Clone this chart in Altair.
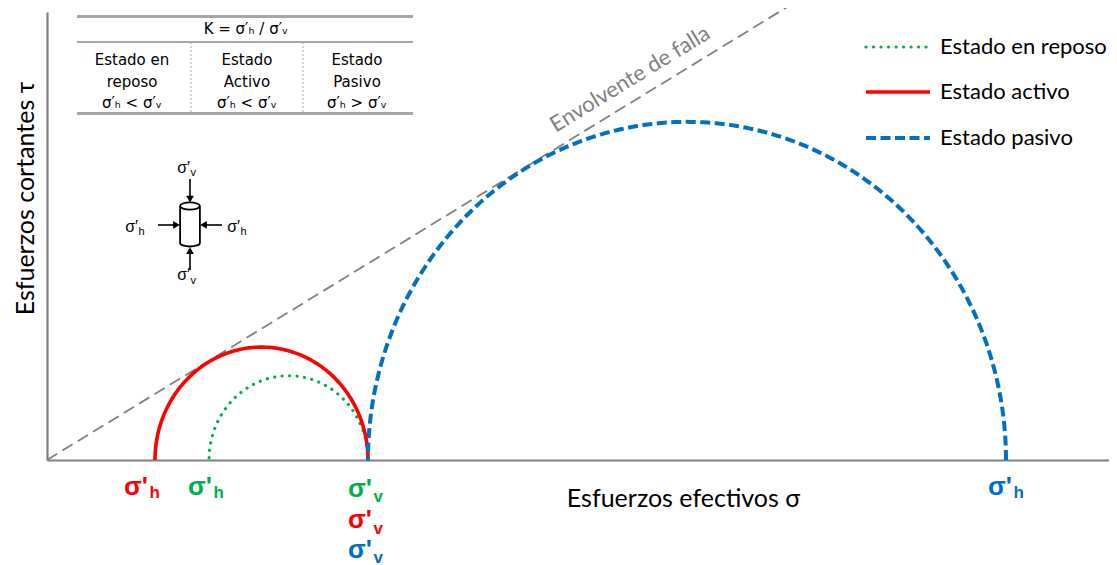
import math
import numpy as np
import pandas as pd
import altair as alt

# ---------------- data ----------------
states = ["Estado en reposo", "Estado activo", "Estado pasivo"]
sigma_h = [16.2, 10.8, 95.9]      # horizontal effective stress
sigma_v = [32.1, 32.1, 32.1]      # vertical effective stress
colors = ["#00B050", "#FF0000", "#0070C0"]
dashes = [[0.1, 7.4], None, [10, 4.5]]
widths = [3.2, 3.6, 4.0]
caps = ["round", "butt", "butt"]

phi_deg = 30.0                    # friction angle of failure envelope
env_sigma = [0.0, 74.0]

X_DOMAIN = [0, 106.2]
Y_DOMAIN = [0, 42.264]

XS = alt.Scale(domain=X_DOMAIN, nice=False, zero=False)
YS = alt.Scale(domain=Y_DOMAIN, nice=False, zero=False)

GRAY = "#808080"

AX = alt.Axis(
    title="Esfuerzos efectivos σ", labels=False, ticks=False, grid=False,
    domainColor=GRAY, domainWidth=2.2, titleFont="Lato", titleFontSize=25,
    titleFontWeight="normal", titleColor="black", titleX=636, titleY=46,
    titleBaseline="alphabetic", titleAlign="center")
AY = alt.Axis(
    title="Esfuerzos cortantes τ", labels=False, ticks=False, grid=False,
    domainColor=GRAY, domainWidth=2.2, titleFont="Lato", titleFontSize=25,
    titleFontWeight="normal", titleColor="black", titleX=-14, titleY=186,
    titleBaseline="alphabetic", titleAlign="center", titleAngle=270)


def xy(x="x", y="y"):
    return dict(x=alt.X(f"{x}:Q", scale=XS, axis=AX), y=alt.Y(f"{y}:Q", scale=YS, axis=AY))


layers = []

# ---------- failure envelope ----------
tanphi = math.tan(math.radians(phi_deg))
env = pd.DataFrame({"x": env_sigma, "y": [s * tanphi for s in env_sigma]})
layers.append(alt.Chart(env).mark_line(color=GRAY, strokeWidth=1.8, strokeDash=[12, 6], clip=False)
              .encode(**xy()))
layers.append(alt.Chart(pd.DataFrame({"x": [58.3], "y": [35.94], "t": ["Envolvente de falla"]}))
              .mark_text(font="Lato", fontSize=22, color=GRAY, angle=328.5, align="center", baseline="middle")
              .encode(text="t:N", **xy()))

# ---------- Mohr semicircles ----------
theta = np.linspace(0, math.pi, 241)
for i, st in enumerate(states):
    c = (sigma_h[i] + sigma_v[i]) / 2
    r = abs(sigma_v[i] - sigma_h[i]) / 2
    df = pd.DataFrame({"x": c + r * np.cos(theta), "y": r * np.sin(theta), "o": np.arange(len(theta))})
    kw = dict(color=colors[i], strokeWidth=widths[i], strokeCap=caps[i], clip=False)
    if dashes[i] is not None:
        kw["strokeDash"] = dashes[i]
    layers.append(alt.Chart(df).mark_line(**kw).encode(order="o:Q", **xy()))

# ---------- legend ----------
leg_y = [38.96, 34.72, 30.38]
leg_x0, leg_x1, leg_tx = 81.9, 88.3, 89.3
for i, st in enumerate(states):
    kw = dict(color=colors[i], strokeWidth=widths[i], strokeCap=caps[i])
    if dashes[i] is not None:
        kw["strokeDash"] = dashes[i]
    d = pd.DataFrame({"x": [leg_x0], "x2": [leg_x1], "y": [leg_y[i]]})
    layers.append(alt.Chart(d).mark_rule(**kw).encode(x2="x2:Q", **xy()))
legtxt = pd.DataFrame({"x": [leg_tx] * 3, "y": leg_y, "t": states})
layers.append(alt.Chart(legtxt).mark_text(font="Lato", fontSize=22, color="black", align="left",
                                          baseline="middle").encode(text="t:N", **xy()))

# ---------- bold stress labels under the axis ----------
lab_colors = [colors[1], colors[0], colors[0], colors[1], colors[2], colors[2]]
lab_main = pd.DataFrame({
    "x": [10.1, 16.5, 32.5, 32.5, 32.5, 96.5],
    "y": [-3.30, -3.30, -3.49, -6.42, -9.25, -3.30],
    "t": ["σ'"] * 6,
    "c": lab_colors,
})
lab_sub = pd.DataFrame({
    "x": [10.25, 16.65, 32.65, 32.65, 32.65, 96.65],
    "y": [-3.58, -3.58, -3.96, -6.98, -9.72, -3.58],
    "t": ["h", "h", "v", "v", "v", "h"],
    "c": lab_colors,
})
layers.append(alt.Chart(lab_main).mark_text(font="Liberation Sans", fontWeight="bold", fontSize=26,
                                            align="right", baseline="alphabetic")
              .encode(text="t:N", color=alt.Color("c:N", scale=None), **xy()))
layers.append(alt.Chart(lab_sub).mark_text(font="Liberation Sans", fontWeight="bold", fontSize=17,
                                           align="left", baseline="alphabetic")
              .encode(text="t:N", color=alt.Color("c:N", scale=None), **xy()))

# ---------- table (top left) ----------
TGRAY = "#A6A6A6"
hrules = pd.DataFrame({"x": [3.0, 3.0, 3.0], "x2": [36.6, 36.6, 36.6], "y": [41.84, 39.43, 32.69],
                       "w": [3, 2, 3]})
for _, row in hrules.iterrows():
    layers.append(alt.Chart(pd.DataFrame([row])).mark_rule(color=TGRAY, strokeWidth=float(row["w"]))
                  .encode(x2="x2:Q", **xy()))
vrules = pd.DataFrame({"x": [14.4, 25.6], "y": [39.43, 39.43], "y2": [32.83, 32.83]})
layers.append(alt.Chart(vrules).mark_rule(color=TGRAY, strokeWidth=1, strokeDash=[2, 2])
              .encode(y2="y2:Q", **xy()))
table_txt = pd.DataFrame({
    "x": [19.9, 8.5, 8.5, 8.5, 20.0, 20.0, 20.0, 31.0, 31.0, 31.0],
    "y": [40.19, 37.26, 35.19, 33.21, 37.26, 35.19, 33.21, 37.26, 35.19, 33.21],
    "t": ["K = σ′ₕ / σ′ᵥ", "Estado en", "reposo", "σ′ₕ < σ′ᵥ",
          "Estado", "Activo", "σ′ₕ < σ′ᵥ", "Estado", "Pasivo", "σ′ₕ > σ′ᵥ"],
})
layers.append(alt.Chart(table_txt).mark_text(font="DejaVu Sans", fontSize=15, color="black",
                                             align="center", baseline="alphabetic")
              .encode(text="t:N", **xy()))

# ---------- inset element sketch ----------
cyl_path = ("M -0.44 -0.82 A 0.44 0.16 0 1 1 0.44 -0.82 A 0.44 0.16 0 1 1 -0.44 -0.82 Z "
            "M -0.44 -0.82 L -0.44 0.82 A 0.44 0.16 0 0 0 0.44 0.82 L 0.44 -0.82")
layers.append(alt.Chart(pd.DataFrame({"x": [14.3], "y": [22.22]}))
              .mark_point(shape=cyl_path, size=2025, filled=False, fill="white", fillOpacity=1,
                          stroke="black", strokeWidth=1.8, opacity=1)
              .encode(**xy()))
shafts = pd.DataFrame({"x": [14.3, 14.3, 11.1, 17.5], "x2": [14.3, 14.3, 12.7, 15.9],
                       "y": [26.51, 17.92, 22.17, 22.17], "y2": [24.91, 19.43, 22.17, 22.17]})
layers.append(alt.Chart(shafts).mark_rule(color="black", strokeWidth=1.6)
              .encode(x2="x2:Q", y2="y2:Q", **xy()))
heads = pd.DataFrame({"x": [14.3, 14.3, 12.95, 15.65], "y": [24.62, 19.76, 22.17, 22.17],
                      "s": ["triangle-down", "triangle-up", "triangle-right", "triangle-left"]})
for _, row in heads.iterrows():
    layers.append(alt.Chart(pd.DataFrame([row])).mark_point(shape=row["s"], size=60, filled=True,
                                                             color="black", opacity=1)
                  .encode(**xy()))
inset_main = pd.DataFrame({"x": [14.3, 14.3, 9.1, 19.3], "y": [27.08, 16.98, 21.51, 21.51],
                           "t": ["σ′", "σ′", "σ′", "σ′"]})
inset_sub = pd.DataFrame({"x": [14.35, 14.35, 9.15, 19.35], "y": [26.75, 16.65, 21.23, 21.23],
                          "t": ["v", "v", "h", "h"]})
layers.append(alt.Chart(inset_main).mark_text(font="Liberation Sans", fontSize=16, color="black",
                                              align="right", baseline="alphabetic")
              .encode(text="t:N", **xy()))
layers.append(alt.Chart(inset_sub).mark_text(font="Liberation Sans", fontSize=11, color="black",
                                             align="left", baseline="alphabetic")
              .encode(text="t:N", **xy()))

chart = alt.layer(*layers).properties(
    width=1062, height=448,
    padding={"left": 39, "top": 4, "right": 0, "bottom": 108},
    autosize=alt.AutoSizeParams(type="none"),
).configure_view(stroke=None)

chart.save("out.html", embed_options={"renderer": "svg", "actions": False})
